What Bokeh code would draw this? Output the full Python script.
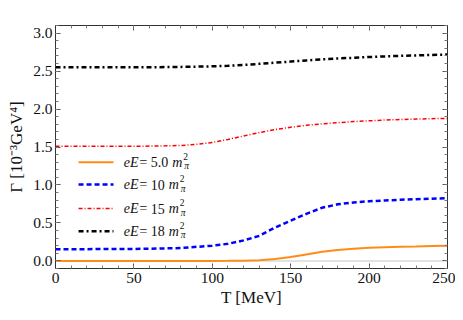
from bokeh.plotting import figure
from bokeh.models import LinearAxis, Range1d, Span, FixedTicker, CustomLabelingPolicy
from bokeh.embed import file_html
from bokeh.resources import INLINE
from bokeh.core.properties import value

# ---- data ----
T = [0, 10, 20, 30, 40, 50, 60, 70, 80, 90, 100, 110, 120, 130, 140, 150,
     160, 170, 180, 190, 200, 210, 220, 230, 240, 250]
g5 = [0.0, 0.0, 0.0, 0.0, 0.0, 0.0, 0.0, 0.0, 0.0, 0.0, 0.0, 0.001, 0.003, 0.008,
      0.025, 0.05, 0.085, 0.12, 0.145, 0.16, 0.172, 0.18, 0.186, 0.19, 0.195, 0.2]
g10 = [0.155, 0.155, 0.155, 0.156, 0.157, 0.158, 0.16, 0.165, 0.17, 0.185, 0.2,
       0.225, 0.27, 0.33, 0.44, 0.53, 0.62, 0.70, 0.745, 0.77, 0.785, 0.795,
       0.805, 0.813, 0.82, 0.825]
g15 = [1.51, 1.51, 1.51, 1.51, 1.51, 1.51, 1.512, 1.515, 1.52, 1.535, 1.56, 1.60,
       1.645, 1.69, 1.73, 1.76, 1.785, 1.805, 1.82, 1.835, 1.845, 1.855, 1.862,
       1.868, 1.873, 1.877]
g18 = [2.55, 2.55, 2.55, 2.55, 2.55, 2.55, 2.55, 2.552, 2.555, 2.558, 2.562, 2.57,
       2.58, 2.595, 2.61, 2.625, 2.64, 2.655, 2.665, 2.675, 2.685, 2.693, 2.70,
       2.706, 2.712, 2.718]
series = [g5, g10, g15, g18]
eE_labels = ["5.0", "10", "15", "18"]
colors = ["#ff8c1a", "#0000ff", "#ff0000", "#000000"]
dashes = ["solid", "5 3", "4 2 1 2", "5 3 2 3"]
widths = [2.0, 2.5, 1.5, 2.5]

x_ticks = [0, 50, 100, 150, 200, 250]
y_ticks = [0.0, 0.5, 1.0, 1.5, 2.0, 2.5, 3.0]

FONT = "Liberation Serif"

p = figure(width=455, height=312, x_range=Range1d(0, 250), y_range=Range1d(-0.1, 3.1),
           output_backend="svg", toolbar_location=None,
           min_border_left=55, min_border_right=8, min_border_top=25, min_border_bottom=44)
p.xgrid.visible = False
p.ygrid.visible = False
p.outline_line_color = "#333333"

xt = FixedTicker(ticks=x_ticks, minor_ticks=list(range(0, 251, 10)))
yt = FixedTicker(ticks=y_ticks, minor_ticks=[round(-0.1 + 0.1 * i, 2) for i in range(33)])

def style(ax, labels=True):
    ax.major_tick_in = 5
    ax.major_tick_out = 0
    ax.minor_tick_in = 3
    ax.minor_tick_out = 0
    ax.axis_line_color = "#333333"
    ax.major_tick_line_color = "#555555"
    ax.minor_tick_line_color = "#777777"
    ax.major_label_text_font = FONT
    ax.major_label_text_font_size = "15.5px" if labels else "0px"
    ax.major_label_text_color = "#111111"
    ax.axis_label_text_font = FONT
    ax.axis_label_text_font_size = "17px"
    ax.axis_label_text_font_style = "normal"
    ax.axis_label_text_color = "#111111"

p.xaxis.ticker = xt
p.yaxis.ticker = yt
p.xaxis.major_label_overrides = {t: str(t) for t in x_ticks}
p.yaxis.major_label_overrides = {t: f"{t:.1f}" for t in y_ticks}
style(p.xaxis[0])
style(p.yaxis[0])
p.xaxis.axis_label = "T [MeV]"
p.yaxis.axis_label = "Γ [10⁻³GeV⁴]"
p.xaxis.major_label_standoff = 4
p.yaxis.major_label_standoff = 3
p.xaxis.axis_label_standoff = 2
p.yaxis.axis_label_standoff = 4

top = LinearAxis(ticker=xt, major_label_policy=CustomLabelingPolicy(code="return new Set()"))
right = LinearAxis(ticker=yt, major_label_policy=CustomLabelingPolicy(code="return new Set()"))
style(top, labels=False)
style(right, labels=False)
top.major_label_standoff = 0
right.major_label_standoff = 0
p.add_layout(top, "above")
p.add_layout(right, "right")

p.add_layout(Span(location=0, dimension="width", line_color="#d8d8d8",
                  line_width=1.5, level="underlay"))

for ys, c, d, w in zip(series, colors, dashes, widths):
    p.line(T, ys, line_color=c, line_dash=d, line_width=w)

# ---- manual legend ----
leg_y = [1.30, 1.005, 0.69, 0.39]
lx0, lx1, tx = 14.7, 37.0, 43.5
for yy, c, d, w in zip(leg_y, colors, dashes, widths):
    p.line([lx0, lx1], [yy, yy], line_color=c, line_dash=d, line_width=w)

def strw(s):
    return sum(3.5 if ch == "." else 7.0 for ch in s)

vw = [strw(s) for s in eE_labels]
fs = "14px"
p.text(x=[tx] * 4, y=leg_y, text=["eE="] * 4, text_font=value(FONT), text_font_size=fs,
       text_font_style="italic", text_baseline="middle", text_color="#111111")
p.text(x=[tx] * 4, y=leg_y, text=eE_labels, x_offset=27, text_font=value(FONT),
       text_font_size=fs, text_baseline="middle", text_color="#111111")
p.text(x=[tx] * 4, y=leg_y, text=["m"] * 4, x_offset=[31 + v for v in vw],
       text_font=value(FONT), text_font_size=fs, text_font_style="italic",
       text_baseline="middle", text_color="#111111")
p.text(x=[tx] * 4, y=leg_y, text=["2"] * 4, x_offset=[42 + v for v in vw], y_offset=-6,
       text_font=value(FONT), text_font_size="9.5px", text_baseline="middle",
       text_color="#111111")
p.text(x=[tx] * 4, y=leg_y, text=["π"] * 4, x_offset=[43 + v for v in vw], y_offset=4,
       text_font=value(FONT), text_font_size="9.5px", text_font_style="italic",
       text_baseline="middle", text_color="#111111")

open("out.html", "w").write(file_html(p, INLINE))
